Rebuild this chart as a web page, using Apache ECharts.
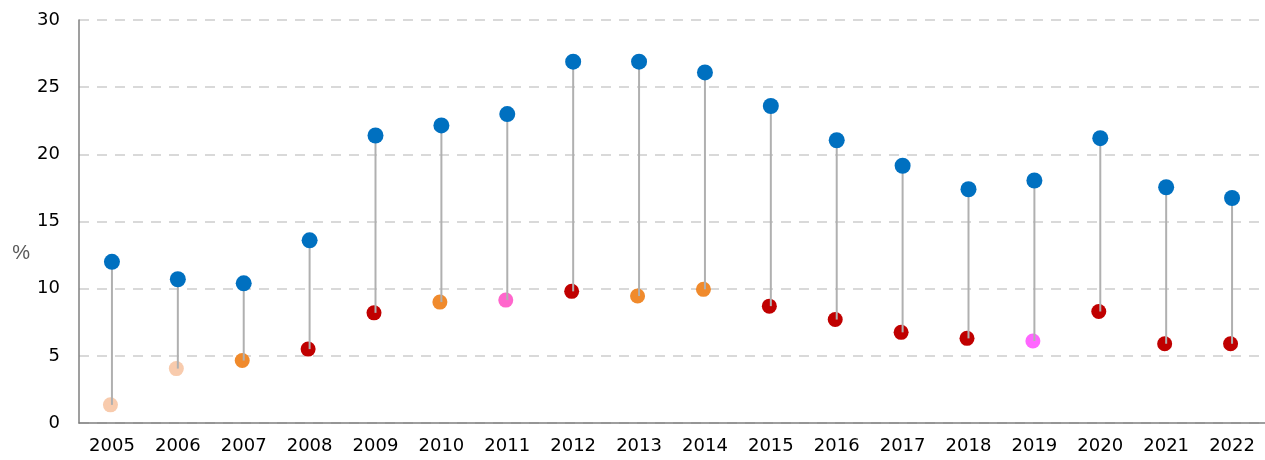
<!DOCTYPE html>
<html>
<head>
<meta charset="utf-8">
<script src="https://cdn.jsdelivr.net/npm/echarts@6/dist/echarts.min.js"></script>
<style>
  html, body { margin: 0; padding: 0; background: #fff; }
  #chart { width: 1265px; height: 460px; }
</style>
</head>
<body>
<div id="chart"></div>
<script>
'use strict';

// data
var years = ['2005','2006','2007','2008','2009','2010','2011','2012','2013',
             '2014','2015','2016','2017','2018','2019','2020','2021','2022'];
var highValues = [12.0, 10.7, 10.4, 13.6, 21.4, 22.15, 23.0, 26.9, 26.9,
                  26.1, 23.6, 21.05, 19.15, 17.4, 18.05, 21.2, 17.55, 16.75];
var lowValues  = [1.35, 4.05, 4.65, 5.5, 8.2, 9.0, 9.15, 9.8, 9.45,
                  9.95, 8.7, 7.7, 6.75, 6.3, 6.1, 8.3, 5.9, 5.9];
var lowGroups  = ['peach','peach','orange','red','red','orange','pink','red','orange',
                  'orange','red','red','red','red','magenta','red','red','red'];
var yTicks = [0, 5, 10, 15, 20, 25, 30];

var groupColor = {
  peach: '#f8cbad',
  orange: '#f08a2c',
  red: '#c00000',
  pink: '#ff66cc',
  magenta: '#ff66ff'
};

var myChart = echarts.init(document.getElementById('chart'));

var lowData = lowValues.map(function (v, i) {
  return { value: v, itemStyle: { color: groupColor[lowGroups[i]], opacity: 1 } };
});
var rangeData = years.map(function (y, i) {
  return [i, lowValues[i], highValues[i]];
});

var labelFont = { color: '#000', fontSize: 18, fontFamily: 'DejaVu Sans', fontWeight: 500 };

var option = {
  animation: false,
  grid: { left: 79, right: -5, top: 20, bottom: 37, containLabel: false },
  xAxis: {
    type: 'category',
    data: years,
    axisLine: { lineStyle: { color: '#7f7f7f', width: 1.5 } },
    axisTick: { show: false },
    axisLabel: Object.assign({ margin: 14 }, labelFont)
  },
  yAxis: {
    type: 'value',
    min: yTicks[0],
    max: yTicks[yTicks.length - 1],
    interval: 5,
    // "%" sits a bit below the middle of the axis in the original
    name: '\n\n%',
    nameLocation: 'middle',
    nameRotate: 0,
    nameGap: 49,
    nameTextStyle: { color: '#595959', fontSize: 20, fontFamily: 'Liberation Sans', lineHeight: 32 },
    axisLine: { show: true, lineStyle: { color: '#7f7f7f', width: 1.5 } },
    axisTick: { show: false },
    axisLabel: Object.assign({ margin: 19 }, labelFont),
    splitLine: { lineStyle: { color: '#d9d9d9', width: 2, type: [10, 8] } }
  },
  series: [
    {
      name: 'low',
      type: 'scatter',
      data: lowData,
      symbolSize: 15,
      symbolOffset: [-1.5, 0],
      z: 2
    },
    {
      name: 'range',
      type: 'custom',
      data: rangeData,
      encode: { x: 0, y: [1, 2] },
      z: 3,
      renderItem: function (params, api) {
        var lo = api.coord([api.value(0), api.value(1)]);
        var hi = api.coord([api.value(0), api.value(2)]);
        return {
          type: 'line',
          shape: { x1: lo[0], y1: lo[1], x2: hi[0], y2: hi[1] },
          style: { stroke: '#b0b0b0', lineWidth: 2 }
        };
      }
    },
    {
      name: 'high',
      type: 'scatter',
      data: highValues,
      symbolSize: 16,
      itemStyle: { color: '#0070c0', opacity: 1 },
      z: 4
    }
  ]
};

myChart.setOption(option);
</script>
</body>
</html>
